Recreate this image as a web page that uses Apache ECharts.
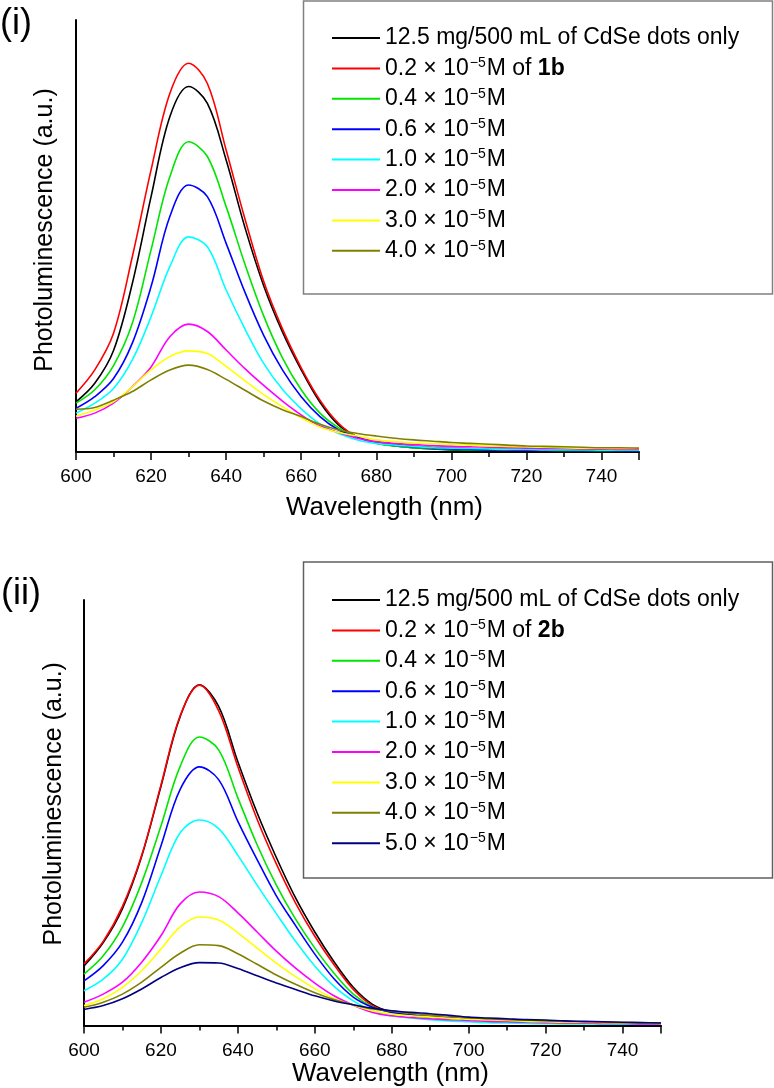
<!DOCTYPE html>
<html>
<head>
<meta charset="utf-8">
<script src="https://cdn.jsdelivr.net/npm/echarts@6/dist/echarts.min.js"></script>
<style>
html,body{margin:0;padding:0;background:#fff;}
#chart{width:774px;height:1088px;}
</style>
</head>
<body>
<div id="chart"></div>
<script>
// ---- data ----
const wavelengths = [600,605,610,615,620,625,630,635,640,645,650,655,660,665,670,675,680,685,690,695,700,705,710,715,720,725,730,735,740,745,750];
const xTicks = [600,620,640,660,680,700,720,740];

const colors1 = ['#000000','#ff0000','#00e600','#0000ff','#00ffff','#ff00ff','#ffff00','#808000'];
const labels1 = [
  '12.5 mg/500 mL of CdSe dots only',
  '0.2 × 10−5M of 1b',
  '0.4 × 10−5M',
  '0.6 × 10−5M',
  '1.0 × 10−5M',
  '2.0 × 10−5M',
  '3.0 × 10−5M',
  '4.0 × 10−5M'
];
const dotsOnly1 = [11.6,15.9,23.5,39.0,59.1,77.6,84.6,80.7,67.6,52.0,38.5,27.8,19.0,11.5,6.2,3.5,2.1,1.4,1.0,0.7,0.5,0.4,0.35,0.3,0.3,0.3,0.25,0.25,0.2,0.2,0.2];
const c02_1b   = [13.6,19.0,27.5,45.2,65.3,83.0,90.0,85.3,69.9,54.0,39.5,28.5,19.5,12.0,6.6,3.5,2.4,1.8,1.4,1.1,0.9,0.8,0.7,0.6,0.5,0.5,0.5,0.4,0.4,0.4,0.4];
const c04_1b   = [11.3,14.4,20.0,29.8,46.8,63.7,71.8,68.4,56.8,43.5,31.5,21.8,14.4,9.0,5.6,3.5,2.0,1.4,1.0,0.8,0.6,0.5,0.45,0.4,0.4,0.4,0.35,0.35,0.3,0.3,0.3];
const c06_1b   = [10.1,12.8,17.0,25.2,38.3,54.5,61.8,59.1,48.3,37.0,27.0,19.0,12.8,8.2,5.1,3.5,2.2,1.6,1.2,0.9,0.7,0.6,0.5,0.45,0.4,0.4,0.4,0.35,0.35,0.3,0.3];
const c10_1b   = [9.0,11.3,14.7,21.3,31.3,42.9,49.8,47.5,37.5,28.5,20.5,14.5,10.0,6.5,4.3,2.8,2.0,1.6,1.3,1.0,0.9,0.8,0.7,0.6,0.6,0.5,0.5,0.5,0.4,0.4,0.4];
const c20_1b   = [7.8,9.0,11.3,15.1,19.7,26.7,29.6,27.9,23.6,19.3,15.4,11.8,8.6,6.0,4.5,3.2,2.4,2.0,1.7,1.5,1.3,1.2,1.1,1.0,0.9,0.8,0.8,0.7,0.7,0.6,0.6];
const c30_1b   = [8.3,9.7,11.6,15.1,19.0,22.1,23.4,22.8,19.8,16.5,13.3,10.5,7.9,5.8,4.5,3.7,2.8,2.4,2.1,1.9,1.8,1.6,1.4,1.3,1.2,1.1,1.0,0.9,0.9,0.8,0.8];
const c40_1b   = [9.9,10.3,12.0,14.0,16.7,19.0,20.1,19.1,16.8,14.3,11.8,9.8,8.2,6.4,5.1,4.3,3.7,3.2,2.8,2.5,2.2,2.0,1.8,1.6,1.4,1.3,1.2,1.1,1.0,1.0,0.9];
const values1 = [dotsOnly1,c02_1b,c04_1b,c06_1b,c10_1b,c20_1b,c30_1b,c40_1b];

const colors2 = ['#000000','#ff0000','#00e600','#0000ff','#00ffff','#ff00ff','#ffff00','#808000','#000080'];
const labels2 = [
  '12.5 mg/500 mL of CdSe dots only',
  '0.2 × 10−5M of 2b',
  '0.4 × 10−5M',
  '0.6 × 10−5M',
  '1.0 × 10−5M',
  '2.0 × 10−5M',
  '3.0 × 10−5M',
  '4.0 × 10−5M',
  '5.0 × 10−5M'
];
const dotsOnly2 = [14.0,19.5,27.5,39.8,56.2,72.6,80.1,75.0,62.0,50.0,39.5,30.0,22.0,15.0,9.0,5.0,3.2,2.5,2.1,1.8,1.5,1.3,1.1,1.0,0.9,0.8,0.7,0.7,0.6,0.6,0.5];
const c02_2b   = [14.5,19.8,28.0,40.0,56.5,72.8,80.0,74.0,60.8,48.5,38.0,28.8,21.0,14.3,8.5,4.7,3.1,2.5,2.1,1.8,1.5,1.3,1.1,1.0,0.9,0.8,0.7,0.7,0.6,0.6,0.5];
const c04_2b   = [12.1,16.4,23.2,33.6,46.9,60.9,67.8,64.8,53.5,42.5,33.0,25.0,18.2,12.3,7.4,4.4,3.1,2.4,2.0,1.7,1.4,1.2,1.0,0.9,0.8,0.7,0.7,0.6,0.6,0.5,0.5];
const c06_2b   = [10.5,14.1,19.6,28.9,42.2,55.5,60.8,57.8,48.0,39.0,30.5,23.5,16.8,11.0,6.7,4.3,3.1,2.4,2.0,1.7,1.4,1.2,1.0,0.9,0.8,0.7,0.7,0.6,0.6,0.5,0.5];
const c10_2b   = [8.2,10.9,15.6,24.2,35.2,45.3,48.3,46.3,40.0,33.0,26.3,19.8,14.0,9.2,5.8,3.5,2.3,1.8,1.4,1.1,0.9,0.7,0.6,0.5,0.45,0.4,0.4,0.35,0.35,0.3,0.3];
const c20_2b   = [5.5,7.4,10.2,14.9,21.1,28.6,31.4,30.3,26.5,22.0,17.5,13.5,10.0,7.0,4.8,3.1,2.3,1.9,1.6,1.4,1.2,1.0,0.9,0.8,0.7,0.6,0.6,0.5,0.5,0.4,0.4];
const c30_2b   = [4.7,6.3,9.0,12.9,18.0,23.2,25.5,24.8,21.8,18.2,14.7,11.5,8.7,6.4,4.8,3.5,2.7,2.3,2.0,1.7,1.5,1.3,1.2,1.0,0.9,0.8,0.8,0.7,0.6,0.6,0.5];
const c40_2b   = [4.3,5.5,7.4,10.2,13.7,17.0,19.0,18.8,16.9,14.4,11.9,9.7,7.7,6.1,4.9,3.9,3.4,2.9,2.5,2.2,1.9,1.6,1.4,1.3,1.1,1.0,0.9,0.8,0.7,0.6,0.6];
const c50_2b   = [3.8,4.7,6.3,8.6,11.3,13.6,14.8,14.7,13.4,11.7,10.0,8.5,7.0,5.8,4.9,4.1,3.5,3.1,2.8,2.4,2.0,1.8,1.6,1.4,1.3,1.1,1.0,0.9,0.8,0.7,0.6];
const values2 = [dotsOnly2,c02_2b,c04_2b,c06_2b,c10_2b,c20_2b,c30_2b,c40_2b,c50_2b];

// ---- chart ----
const FONT = '"Liberation Sans", Arial, sans-serif';
const chart = echarts.init(document.getElementById('chart'), null, {renderer:'canvas'});

function xAxisCfg(gridIndex, nameGap, labelMargin, namePadLeft){
  return {
    type:'value', gridIndex, min:600, max:750, interval:20,
    name:'Wavelength (nm)', nameLocation:'middle', nameGap,
    nameTextStyle:{fontFamily:FONT, fontSize:26, color:'#000', padding:[0,0,0,namePadLeft]},
    axisLine:{show:true, onZero:false, lineStyle:{color:'#000', width:2}},
    axisTick:{show:true, inside:false, length:8, lineStyle:{color:'#000', width:1.5}},
    minorTick:{show:true, splitNumber:2, length:5, lineStyle:{color:'#000', width:1.5}},
    axisLabel:{
      show:true, fontFamily:FONT, fontSize:19, color:'#000', margin:labelMargin,
      formatter: v => xTicks.indexOf(v) >= 0 ? '{t|' + v + '}' : '',
      rich:{ t:{fontFamily:FONT, fontSize:19, color:'#000', lineHeight:20} }
    },
    splitLine:{show:false}
  };
}
function yAxisCfg(gridIndex, nameGap, namePadLeft){
  return {
    type:'value', gridIndex, min:0, max:100,
    name:'Photoluminescence (a.u.)', nameLocation:'middle', nameGap, nameRotate:90,
    nameTextStyle:{fontFamily:FONT, fontSize:25, color:'#000', padding:[0,0,0,namePadLeft]},
    axisLine:{show:true, lineStyle:{color:'#000', width:2}},
    axisTick:{show:false}, axisLabel:{show:false}, splitLine:{show:false}
  };
}

const series = [];
values1.forEach((vals, i) => {
  series.push({
    name: labels1[i], type:'line', xAxisIndex:0, yAxisIndex:0,
    data: wavelengths.map((w, k) => [w, vals[k]]),
    showSymbol:false, smooth:0.35, color: colors1[i],
    lineStyle:{width:1.6, color: colors1[i]}, z: 2 + i
  });
});
values2.forEach((vals, i) => {
  series.push({
    name: labels2[i], type:'line', xAxisIndex:1, yAxisIndex:1,
    data: wavelengths.map((w, k) => [w, vals[k]]),
    showSymbol:false, smooth:0.35, color: colors2[i],
    lineStyle:{width:1.6, color: colors2[i]}, z: 2 + i
  });
});

function richName(name){
  return name.replace('10−5', '10{s|−5}').replace(/of (\db)$/, 'of {b|$1}');
}
const legendText = {
  fontFamily:FONT, fontSize:23, color:'#000', lineHeight:24,
  rich:{
    s:{fontFamily:FONT, fontSize:14, color:'#000', verticalAlign:'top', lineHeight:24, padding:[0,1,0,1]},
    b:{fontFamily:FONT, fontSize:23, fontWeight:'bold', color:'#000', lineHeight:24}
  }
};
function legendCfg(names, colors, top){
  return {
    orient:'vertical', left:332, top, padding:0, itemGap:6.4,
    itemWidth:48, itemHeight:2, icon:'rect',
    data: names.map((n, i) => ({name:n, itemStyle:{color:colors[i]}})),
    textStyle: legendText, formatter: richName, selectedMode:false
  };
}

const option = {
  animation:false,
  backgroundColor:'#ffffff',
  textStyle:{fontFamily:FONT},
  grid:[
    {left:76, top:20, width:563, height:432, containLabel:false},
    {left:84, top:600, width:577, height:427, containLabel:false}
  ],
  xAxis:[ xAxisCfg(0, 43, 15, 54), xAxisCfg(1, 34, 15, 36) ],
  yAxis:[ yAxisCfg(0, 18, 12), yAxisCfg(1, 17, 18) ],
  legend:[ legendCfg(labels1, colors1, 26), legendCfg(labels2, colors2, 588) ],
  graphic:[
    {type:'rect', shape:{x:303.5, y:1, width:469, height:293}, style:{fill:'none', stroke:'#808080', lineWidth:1.5}, silent:true},
    {type:'rect', shape:{x:303.5, y:562, width:469, height:316}, style:{fill:'none', stroke:'#606060', lineWidth:1.5}, silent:true},
    {type:'text', left:0, top:6, style:{text:'(i)', fontFamily:FONT, fontSize:36, fill:'#000'}},
    {type:'text', left:1, top:576, style:{text:'(ii)', fontFamily:FONT, fontSize:36, fill:'#000'}}
  ],
  series
};
chart.setOption(option);
</script>
</body>
</html>
